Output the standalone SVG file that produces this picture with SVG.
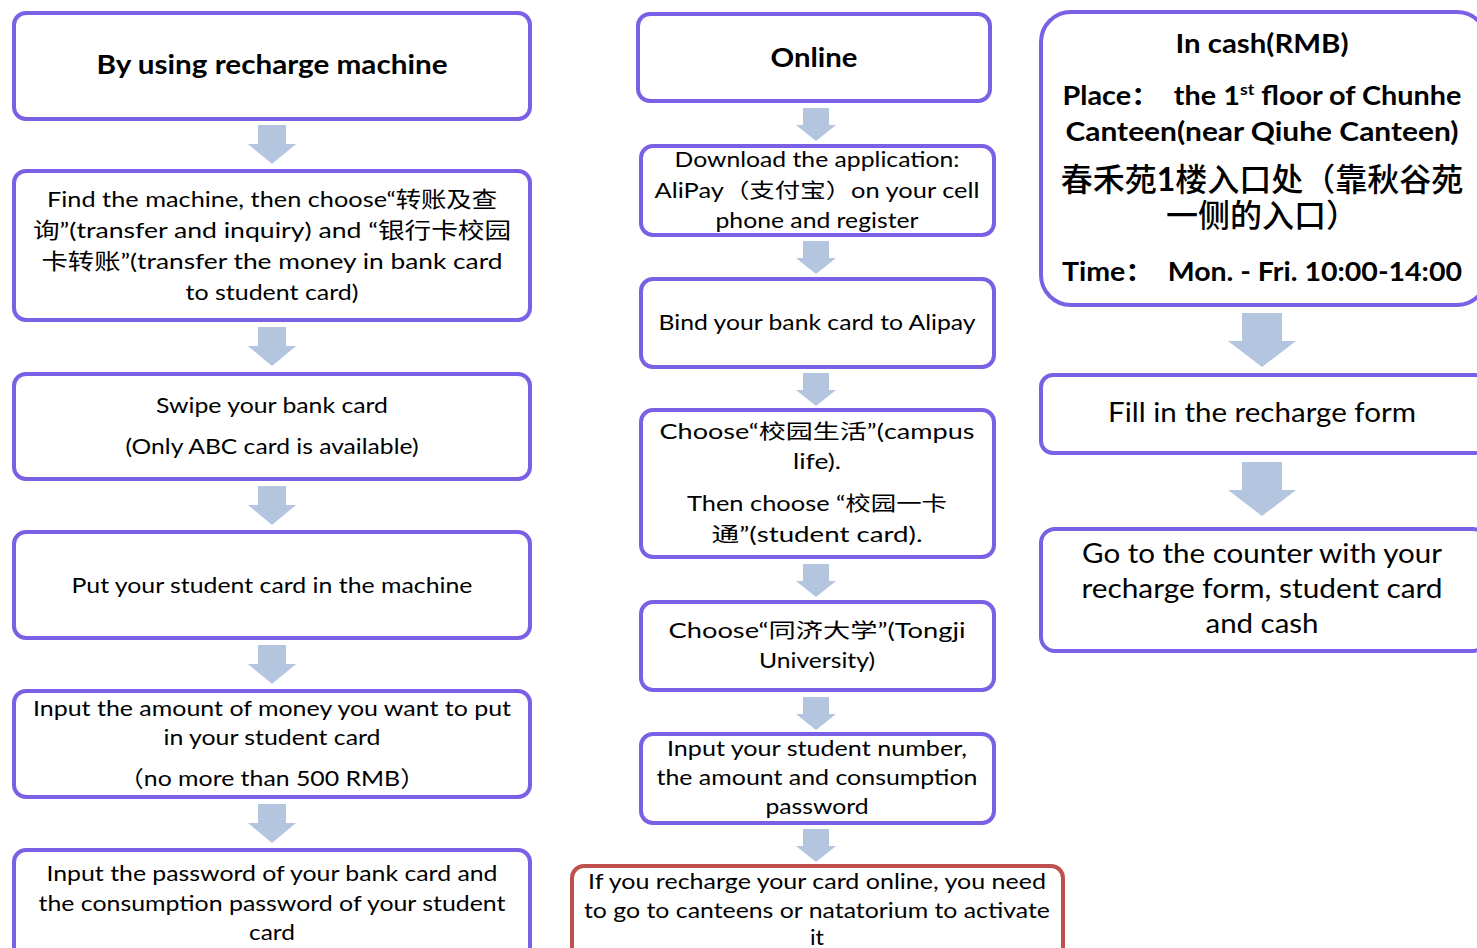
<svg xmlns="http://www.w3.org/2000/svg" xmlns:xlink="http://www.w3.org/1999/xlink" width="1477" height="948" viewBox="0 0 1477 948">
<style>
.box{fill:#fff;stroke:#7A60E4;stroke-width:4}
.red{fill:#fff;stroke:#C0504D;stroke-width:4}
.arr{fill:#B3C5DF}
text{font-family:Lato,"Noto Sans CJK SC",sans-serif;fill:#000;text-anchor:middle}
.t22{font-size:22px}
.t20{font-size:20.5px}
.t26{font-size:26px}
.b{font-weight:bold}
.cjk{font-family:"Noto Sans CJK SC",sans-serif;font-weight:500;font-size:32px}
</style>
<defs>
<path id="aL" class="arr" d="M-14,0 H14 V19 H24 L0,39 L-24,19 H-14 Z"/>
<path id="aM" class="arr" d="M-13,0 H13 V17 H20 L0,33 L-20,17 H-13 Z"/>
<path id="aR" class="arr" d="M-20,0 H20 V28 H34 L0,54 L-34,28 H-20 Z"/>
</defs>
<rect width="1477" height="948" fill="#fff"/>

<g id="connectors">
<use xlink:href="#aL" x="272" y="125"/>
<use xlink:href="#aL" x="272" y="327"/>
<use xlink:href="#aL" x="272" y="486"/>
<use xlink:href="#aL" x="272" y="645"/>
<use xlink:href="#aL" x="272" y="804"/>
<use xlink:href="#aM" x="816" y="108"/>
<use xlink:href="#aM" x="816" y="241"/>
<use xlink:href="#aM" x="816" y="373"/>
<use xlink:href="#aM" x="816" y="564"/>
<use xlink:href="#aM" x="816" y="697"/>
<use xlink:href="#aM" x="816" y="829"/>
<use xlink:href="#aR" x="1262" y="313"/>
<use xlink:href="#aR" x="1262" y="462"/>
</g>

<g id="left1">
<rect class="box" x="14" y="13" width="516" height="106" rx="12"/>
<text class="t26 b" x="272" y="74" textLength="351" lengthAdjust="spacingAndGlyphs">By using recharge machine</text>
</g>
<g id="left2">
<rect class="box" x="14" y="171" width="516" height="149" rx="12"/>
<text class="t22" x="272" y="207" textLength="450" lengthAdjust="spacingAndGlyphs">Find the machine, then choose“转账及查</text>
<text class="t22" x="272" y="238" textLength="478" lengthAdjust="spacingAndGlyphs">询”(transfer and inquiry) and “银行卡校园</text>
<text class="t22" x="272" y="269" textLength="461" lengthAdjust="spacingAndGlyphs">卡转账”(transfer the money in bank card</text>
<text class="t22" x="272" y="300" textLength="173" lengthAdjust="spacingAndGlyphs">to student card)</text>
</g>
<g id="left3">
<rect class="box" x="14" y="374" width="516" height="105" rx="12"/>
<text class="t22" x="272" y="413" textLength="232" lengthAdjust="spacingAndGlyphs">Swipe your bank card</text>
<text class="t22" x="272" y="454" textLength="293" lengthAdjust="spacingAndGlyphs">(Only ABC card is available)</text>
</g>
<g id="left4">
<rect class="box" x="14" y="532" width="516" height="106" rx="12"/>
<text class="t22" x="272" y="593" textLength="401" lengthAdjust="spacingAndGlyphs">Put your student card in the machine</text>
</g>
<g id="left5">
<rect class="box" x="14" y="691" width="516" height="106" rx="12"/>
<text class="t22" x="272" y="716" textLength="478" lengthAdjust="spacingAndGlyphs">Input the amount of money you want to put</text>
<text class="t22" x="272" y="745" textLength="217" lengthAdjust="spacingAndGlyphs">in your student card</text>
<text class="t22" x="272" y="786" textLength="306" lengthAdjust="spacingAndGlyphs">（no more than 500 RMB）</text>
</g>
<g id="left6">
<rect class="box" x="14" y="850" width="516" height="120" rx="12"/>
<text class="t22" x="272" y="881" textLength="451" lengthAdjust="spacingAndGlyphs">Input the password of your bank card and</text>
<text class="t22" x="272" y="911" textLength="467" lengthAdjust="spacingAndGlyphs">the consumption password of your student</text>
<text class="t22" x="272" y="940" textLength="46" lengthAdjust="spacingAndGlyphs">card</text>
</g>

<g id="mid1">
<rect class="box" x="638" y="14" width="352" height="87" rx="12"/>
<text class="t26 b" x="814" y="67" textLength="87" lengthAdjust="spacingAndGlyphs">Online</text>
</g>
<g id="mid2">
<rect class="box" x="641" y="146" width="353" height="89" rx="12"/>
<text class="t20" x="817" y="167" textLength="285" lengthAdjust="spacingAndGlyphs">Download the application:</text>
<text class="t20" x="817" y="198" textLength="325" lengthAdjust="spacingAndGlyphs">AliPay（支付宝）on your cell</text>
<text class="t20" x="817" y="228" textLength="203" lengthAdjust="spacingAndGlyphs">phone and register</text>
</g>
<g id="mid3">
<rect class="box" x="641" y="279" width="353" height="88" rx="12"/>
<text class="t20" x="817" y="330" textLength="317" lengthAdjust="spacingAndGlyphs">Bind your bank card to Alipay</text>
</g>
<g id="mid4">
<rect class="box" x="641" y="410" width="353" height="147" rx="12"/>
<text class="t20" x="817" y="439" textLength="315" lengthAdjust="spacingAndGlyphs">Choose“校园生活”(campus</text>
<text class="t20" x="817" y="469" textLength="48" lengthAdjust="spacingAndGlyphs">life).</text>
<text class="t20" x="817" y="511" textLength="260" lengthAdjust="spacingAndGlyphs">Then choose “校园一卡</text>
<text class="t20" x="817" y="542" textLength="211" lengthAdjust="spacingAndGlyphs">通”(student card).</text>
</g>
<g id="mid5">
<rect class="box" x="641" y="602" width="353" height="88" rx="12"/>
<text class="t20" x="817" y="638" textLength="297" lengthAdjust="spacingAndGlyphs">Choose“同济大学”(Tongji</text>
<text class="t20" x="817" y="668" textLength="116" lengthAdjust="spacingAndGlyphs">University)</text>
</g>
<g id="mid6">
<rect class="box" x="641" y="734" width="353" height="89" rx="12"/>
<text class="t20" x="817" y="756" textLength="300" lengthAdjust="spacingAndGlyphs">Input your student number,</text>
<text class="t20" x="817" y="785" textLength="321" lengthAdjust="spacingAndGlyphs">the amount and consumption</text>
<text class="t20" x="817" y="814" textLength="103" lengthAdjust="spacingAndGlyphs">password</text>
</g>
<g id="mid7">
<rect class="red" x="572" y="866" width="491" height="110" rx="12"/>
<text class="t22" x="817" y="889" textLength="458" lengthAdjust="spacingAndGlyphs">If you recharge your card online, you need</text>
<text class="t22" x="817" y="918" textLength="466" lengthAdjust="spacingAndGlyphs">to go to canteens or natatorium to activate</text>
<text class="t22" x="817" y="945" textLength="14" lengthAdjust="spacingAndGlyphs">it</text>
</g>

<g id="right1">
<rect class="box" x="1041" y="12" width="446" height="293" rx="30"/>
<text class="t26 b" x="1262" y="53" textLength="173" lengthAdjust="spacingAndGlyphs">In cash(RMB)</text>
<text class="t26 b" x="1262" y="105" textLength="399" lengthAdjust="spacingAndGlyphs" xml:space="preserve">Place：  the 1<tspan dy="-10" font-size="16">st</tspan><tspan dy="10"> floor of Chunhe</tspan></text>
<text class="t26 b" x="1262" y="141" textLength="393" lengthAdjust="spacingAndGlyphs">Canteen(near Qiuhe Canteen)</text>
<text class="cjk" x="1262" y="191">春禾苑<tspan font-family="Lato" font-weight="bold">1</tspan>楼入口处（靠秋谷苑<tspan x="1262" dy="36">一侧的入口）</tspan></text>
<text class="t26 b" x="1262" y="281" textLength="400" lengthAdjust="spacingAndGlyphs" xml:space="preserve">Time：  Mon. - Fri. 10:00-14:00</text>
</g>
<g id="right2">
<rect class="box" x="1041" y="375" width="446" height="78" rx="12"/>
<text class="t26" x="1262" y="422" textLength="308" lengthAdjust="spacingAndGlyphs">Fill in the recharge form</text>
</g>
<g id="right3">
<rect class="box" x="1041" y="529" width="446" height="122" rx="14"/>
<text class="t26" x="1262" y="563" textLength="360" lengthAdjust="spacingAndGlyphs">Go to the counter with your</text>
<text class="t26" x="1262" y="598" textLength="361" lengthAdjust="spacingAndGlyphs">recharge form, student card</text>
<text class="t26" x="1262" y="633" textLength="113" lengthAdjust="spacingAndGlyphs">and cash</text>
</g>
</svg>
